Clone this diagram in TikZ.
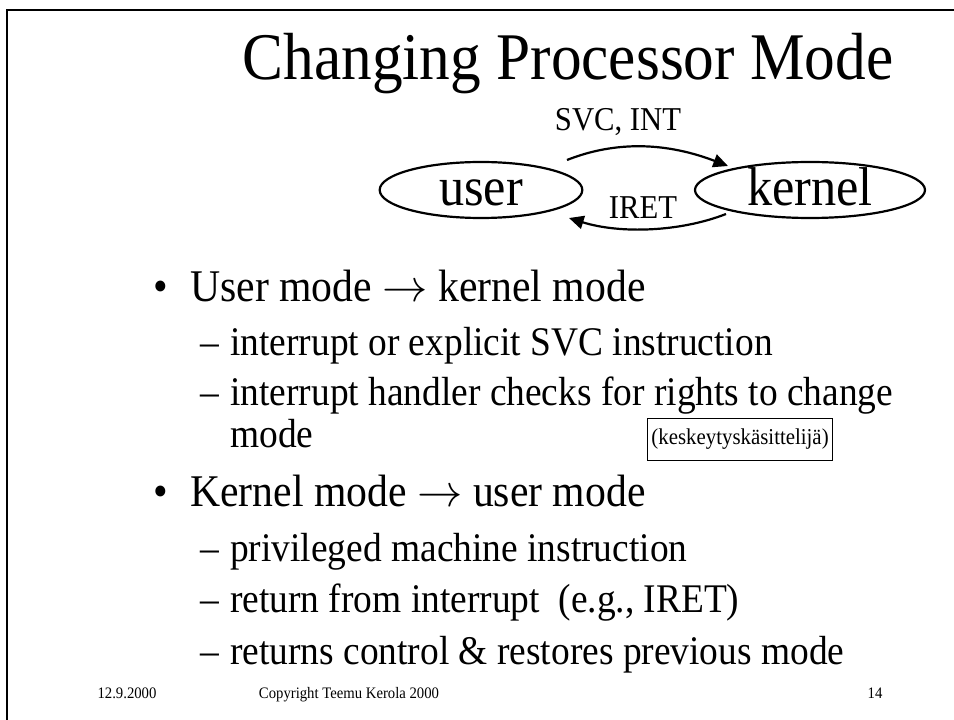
\RequirePackage{fix-cm}
\documentclass[tikz,border=0pt]{standalone}
\usepackage{fontspec}
\setmainfont[FakeStretch=0.92]{Liberation Serif}
\usetikzlibrary{arrows.meta,shapes.geometric}
\begin{document}
\begin{tikzpicture}[x=0.75pt,y=-0.75pt,
  txt/.style={inner sep=0pt,anchor=base west},
  lone/.style={txt,font=\fontsize{34}{40}\selectfont},
  ltwo/.style={txt,font=\fontsize{30.5}{36}\selectfont},
  lbl/.style={inner sep=0pt,anchor=base,font=\fontsize{25}{30}\selectfont},
  mode/.style={ellipse,draw,line width=1.65pt,inner sep=0pt,text height=24pt,text depth=0pt,font=\fontsize{41}{48}\selectfont},
  foot/.style={inner sep=0pt,anchor=base,font=\fontsize{12}{14}\selectfont},
  arr/.style={line width=1.65pt,-{Triangle[length=11pt,width=10pt]}}]
\useasboundingbox (0,0) rectangle (954,720);
\draw[line width=1.65pt] (7,720) -- (7,10) -- (954,10);
\node[inner sep=0pt,anchor=base,font=\fontsize{50}{60}\selectfont] (title) at (568,80) {Changing Processor Mode};
\node[lbl] (svc) at (618,131) {SVC, INT};
\node[mode,minimum width=152pt,minimum height=42pt] (user) at (481,190) {user};
\node[mode,minimum width=172.5pt,minimum height=42pt] (kernel) at (810,190) {kernel};
\node[lbl] (iret) at (643,219) {IRET};
\coordinate (a1) at (567,160);
\coordinate (a2) at (728,166);
\coordinate (b1) at (726,214);
\coordinate (b2) at (569,218);
\draw[arr] (a1) .. controls (610,143) and (660,140) .. (a2);
\draw[arr] (b1) .. controls (680,232) and (620,234) .. (b2);
\node[lone] (b1t) at (153,302) {•};
\node[lone] (l1) at (190,302) {User mode $\rightarrow$ kernel mode};
\node[ltwo] (d1) at (200,356) {–};
\node[ltwo] (l2) at (230,356) {interrupt or explicit SVC instruction};
\node[ltwo] (d2) at (200,406) {–};
\node[ltwo] (l3) at (230,406) {interrupt handler checks for rights to change};
\node[ltwo] (l4) at (230,447) {mode};
\node[draw,line width=0.6pt,minimum width=139pt,minimum height=31.5pt,inner sep=0pt,anchor=north west,font=\fontsize{17}{20}\selectfont] (box) at (647,418) {(keskeytyskäsittelijä)};
\node[lone] (b2t) at (153,507) {•};
\node[lone] (l5) at (190,507) {Kernel mode $\rightarrow$ user mode};
\node[ltwo] (d3) at (200,561) {–};
\node[ltwo] (l6) at (230,561) {privileged machine instruction};
\node[ltwo] (d4) at (200,612) {–};
\node[ltwo] (l7) at (230,612) {return from interrupt\ \ (e.g., IRET)};
\node[ltwo] (d5) at (200,664) {–};
\node[ltwo] (l8) at (230,664) {returns control \& restores previous mode};
\node[foot] (date) at (127,698) {12.9.2000};
\node[foot] (copy) at (349,698) {Copyright Teemu Kerola 2000};
\node[foot] (page) at (875,698) {14};
\end{tikzpicture}
\end{document}
